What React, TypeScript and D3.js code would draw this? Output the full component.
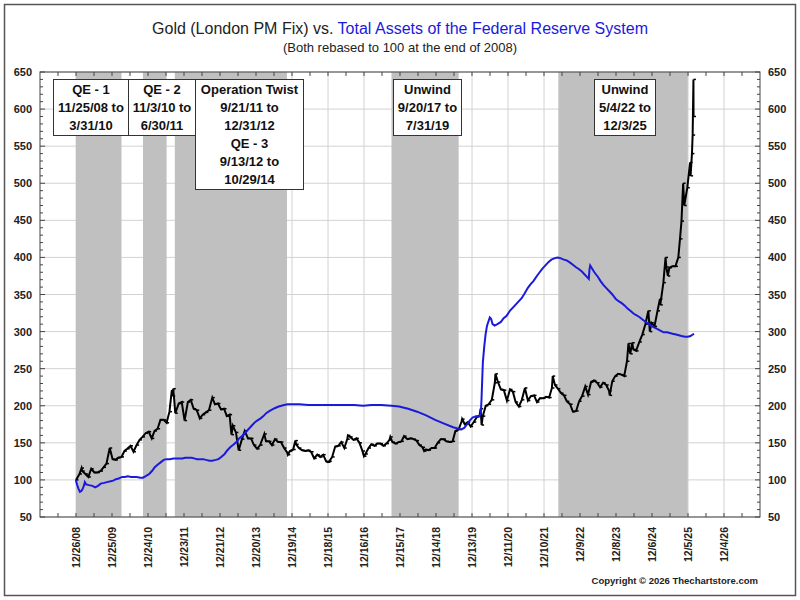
import React, { useEffect, useRef } from 'react';
import * as d3 from 'd3';

// x axis tick labels (every 52 weeks)
const tickLabels = [
  '12/26/08', '12/25/09', '12/24/10', '12/23/11', '12/21/12', '12/20/13', '12/19/14',
  '12/18/15', '12/16/16', '12/15/17', '12/14/18', '12/13/19', '12/11/20', '12/10/21',
  '12/9/22', '12/8/23', '12/6/24', '12/5/25', '12/4/26',
];
const yTicks = [50, 100, 150, 200, 250, 300, 350, 400, 450, 500, 550, 600, 650];

// shaded policy periods
const shadeStarts = ['11/25/08', '11/3/10', '9/21/11', '9/20/17', '5/4/22'];
const shadeEnds = ['3/31/10', '6/30/11', '10/29/14', '7/31/19', '12/3/25'];

const boxLines = [
  ['QE - 1', '11/25/08 to', '3/31/10'],
  ['QE - 2', '11/3/10 to', '6/30/11'],
  ['Operation Twist', '9/21/11 to', '12/31/12', 'QE - 3', '9/13/12 to', '10/29/14'],
  ['Unwind', '9/20/17 to', '7/31/19'],
  ['Unwind', '5/4/22 to', '12/3/25'],
];

// gold, London PM fix, rebased (100 = end of 2008)
const goldDates = [
  '2008-12-26', '2009-01-30', '2009-02-20', '2009-02-27', '2009-03-31', '2009-04-30', '2009-05-29', '2009-06-30',
  '2009-07-31', '2009-08-31', '2009-09-30', '2009-10-30', '2009-12-02', '2009-12-31',
  '2010-01-29', '2010-02-26', '2010-03-31', '2010-04-30', '2010-05-28', '2010-06-30', '2010-07-30', '2010-08-31',
  '2010-09-30', '2010-10-29', '2010-11-30', '2010-12-31',
  '2011-01-31', '2011-02-28', '2011-03-31', '2011-04-29', '2011-05-31', '2011-06-30', '2011-07-29', '2011-08-22',
  '2011-08-31', '2011-09-06', '2011-09-26', '2011-10-31', '2011-11-30', '2011-12-29',
  '2012-01-31', '2012-02-29', '2012-03-30', '2012-04-30', '2012-05-31', '2012-06-29', '2012-07-31', '2012-08-31',
  '2012-10-04', '2012-10-31', '2012-11-30', '2012-12-31',
  '2013-01-31', '2013-02-28', '2013-03-28', '2013-04-16', '2013-04-30', '2013-05-31', '2013-06-28', '2013-07-31',
  '2013-08-28', '2013-09-30', '2013-10-31', '2013-11-29', '2013-12-31',
  '2014-01-31', '2014-03-14', '2014-03-31', '2014-04-30', '2014-05-30', '2014-06-30', '2014-07-31', '2014-08-29',
  '2014-09-30', '2014-10-31', '2014-11-07', '2014-11-28', '2014-12-31',
  '2015-01-22', '2015-01-30', '2015-02-27', '2015-03-31', '2015-04-30', '2015-05-29', '2015-06-30', '2015-07-31',
  '2015-08-31', '2015-09-30', '2015-10-30', '2015-11-30', '2015-12-17', '2015-12-31',
  '2016-01-29', '2016-02-29', '2016-03-31', '2016-04-29', '2016-05-31', '2016-06-30', '2016-07-06', '2016-07-29',
  '2016-08-31', '2016-09-30', '2016-10-31', '2016-11-30', '2016-12-15', '2016-12-30',
  '2017-01-31', '2017-02-28', '2017-03-31', '2017-04-28', '2017-05-31', '2017-06-30', '2017-07-31', '2017-08-31',
  '2017-09-08', '2017-09-29', '2017-10-31', '2017-11-30', '2017-12-29',
  '2018-01-25', '2018-02-28', '2018-03-30', '2018-04-30', '2018-05-31', '2018-06-29', '2018-07-31', '2018-08-16',
  '2018-08-31', '2018-09-28', '2018-10-31', '2018-11-30', '2018-12-31',
  '2019-01-31', '2019-02-28', '2019-03-29', '2019-04-30', '2019-05-31', '2019-06-28', '2019-07-31', '2019-08-30',
  '2019-09-04', '2019-09-30', '2019-10-31', '2019-11-29', '2019-12-31',
  '2020-01-31', '2020-02-28', '2020-03-09', '2020-03-19', '2020-03-31', '2020-04-30', '2020-05-29', '2020-06-30',
  '2020-07-31', '2020-08-06', '2020-08-31', '2020-09-30', '2020-10-30', '2020-11-30', '2020-12-31',
  '2021-01-29', '2021-02-26', '2021-03-31', '2021-04-30', '2021-05-31', '2021-06-30', '2021-07-30', '2021-08-31',
  '2021-09-30', '2021-10-29', '2021-11-30', '2021-12-31',
  '2022-01-31', '2022-02-28', '2022-03-08', '2022-03-31', '2022-04-29', '2022-05-31', '2022-06-30', '2022-07-29',
  '2022-08-31', '2022-09-28', '2022-10-31', '2022-11-30', '2022-12-30',
  '2023-01-31', '2023-02-28', '2023-03-31', '2023-04-28', '2023-05-31', '2023-06-30', '2023-07-31', '2023-08-31',
  '2023-09-29', '2023-10-05', '2023-10-31', '2023-11-30', '2023-12-29',
  '2024-01-31', '2024-02-29', '2024-03-28', '2024-04-12', '2024-04-30', '2024-05-20', '2024-05-31', '2024-06-28',
  '2024-07-31', '2024-08-30', '2024-09-30', '2024-10-30', '2024-11-14', '2024-11-29', '2024-12-31',
  '2025-01-31', '2025-02-24', '2025-02-28', '2025-03-31', '2025-04-22', '2025-04-30', '2025-05-15', '2025-05-30',
  '2025-06-30', '2025-07-31', '2025-08-29', '2025-09-15', '2025-09-30', '2025-10-17', '2025-10-28', '2025-11-28',
  '2025-12-26', '2025-12-31', '2026-01-14', '2026-01-21', '2026-01-29', '2026-01-30',
];
const goldValues = [
  100, 108, 116, 112, 108, 104, 115, 110,
  110, 112, 117, 122, 143, 128,
  127, 130, 131, 139, 142, 146, 138, 147,
  154, 158, 163, 165,
  156, 166, 169, 181, 181, 177, 192, 221,
  213, 223, 190, 203, 205, 180,
  205, 208, 196, 194, 183, 188, 191, 194,
  211, 202, 203, 195,
  196, 186, 188, 161, 173, 164, 140, 155,
  166, 156, 156, 147, 142,
  147, 162, 152, 152, 147, 155, 151, 151,
  143, 137, 134, 139, 141,
  153, 148, 143, 140, 139, 140, 138, 129,
  134, 131, 134, 125, 124, 125,
  131, 145, 146, 151, 143, 155, 160, 158,
  154, 156, 150, 139, 132, 135,
  143, 148, 146, 149, 149, 146, 149, 154,
  158, 151, 149, 151, 152,
  159, 155, 156, 155, 153, 147, 144, 139,
  141, 140, 143, 143, 150,
  155, 155, 152, 151, 152, 166, 168, 179,
  182, 175, 178, 172, 178,
  185, 187, 196, 174, 186, 200, 202, 208,
  231, 243, 232, 222, 221, 207, 222,
  219, 205, 199, 208, 224, 207, 213, 214,
  205, 210, 210, 212,
  211, 224, 240, 228, 223, 217, 214, 206,
  202, 192, 193, 206, 213,
  226, 215, 232, 234, 231, 225, 231, 228,
  220, 214, 233, 240, 243,
  242, 240, 260, 284, 270, 285, 276, 274,
  286, 296, 310, 328, 300, 312, 307,
  328, 344, 336, 366, 400, 387, 375, 386,
  388, 388, 400, 425, 449, 500, 470, 494,
  528, 510, 540, 565, 640, 590,
];

// total assets of the Federal Reserve, rebased (100 = end of 2008)
const fedDates = [
  '2008-12-24', '2009-01-07', '2009-01-21', '2009-02-04', '2009-02-18', '2009-03-04', '2009-03-18', '2009-03-25',
  '2009-04-08', '2009-05-06', '2009-06-10', '2009-07-08', '2009-08-05', '2009-09-02', '2009-10-07', '2009-11-04',
  '2009-12-02', '2010-01-06', '2010-02-03', '2010-03-03', '2010-04-07', '2010-05-05', '2010-06-02', '2010-07-07',
  '2010-08-04', '2010-09-01', '2010-10-06', '2010-11-03', '2010-12-01', '2011-01-05', '2011-02-02', '2011-03-02',
  '2011-04-06', '2011-05-04', '2011-06-01', '2011-06-29', '2011-08-03', '2011-09-07', '2011-10-05', '2011-11-02',
  '2011-12-07', '2012-01-04', '2012-02-01', '2012-03-07', '2012-04-04', '2012-05-02', '2012-06-06', '2012-07-04',
  '2012-08-01', '2012-09-05', '2012-10-03', '2012-11-07', '2012-12-05', '2013-01-02', '2013-02-06', '2013-03-06',
  '2013-04-03', '2013-05-01', '2013-06-05', '2013-07-03', '2013-08-07', '2013-09-04', '2013-10-02', '2013-11-06',
  '2013-12-04', '2014-01-01', '2014-02-05', '2014-03-05', '2014-04-02', '2014-05-07', '2014-06-04', '2014-07-02',
  '2014-08-06', '2014-09-03', '2014-10-01', '2014-11-05', '2014-12-03', '2015-03-04', '2015-06-03', '2015-09-02',
  '2015-12-02', '2016-03-02', '2016-06-01', '2016-09-07', '2016-12-07', '2017-03-01', '2017-06-07', '2017-09-20',
  '2017-12-06', '2018-03-07', '2018-06-06', '2018-09-05', '2018-12-05', '2019-03-06', '2019-06-05', '2019-08-28',
  '2019-09-25', '2019-10-23', '2019-11-20', '2019-12-18', '2020-01-22', '2020-02-26', '2020-03-11', '2020-03-18',
  '2020-03-25', '2020-04-01', '2020-04-15', '2020-04-29', '2020-05-13', '2020-06-10', '2020-06-24', '2020-07-08',
  '2020-07-29', '2020-08-26', '2020-09-30', '2020-10-28', '2020-11-25', '2020-12-30', '2021-01-27', '2021-02-24',
  '2021-03-31', '2021-04-28', '2021-05-26', '2021-06-30', '2021-07-28', '2021-08-25', '2021-09-29', '2021-10-27',
  '2021-11-24', '2021-12-29', '2022-01-26', '2022-02-23', '2022-03-30', '2022-04-27', '2022-05-25', '2022-06-29',
  '2022-07-27', '2022-08-31', '2022-09-28', '2022-10-26', '2022-11-30', '2022-12-28', '2023-01-25', '2023-02-22',
  '2023-03-08', '2023-03-15', '2023-03-22', '2023-04-05', '2023-05-03', '2023-06-07', '2023-07-05', '2023-08-02',
  '2023-09-06', '2023-10-04', '2023-11-01', '2023-12-06', '2024-01-03', '2024-02-07', '2024-03-06', '2024-04-03',
  '2024-05-01', '2024-06-05', '2024-07-03', '2024-08-07', '2024-09-04', '2024-10-02', '2024-11-06', '2024-12-04',
  '2025-01-08', '2025-02-05', '2025-03-05', '2025-04-02', '2025-05-07', '2025-06-04', '2025-07-02', '2025-08-06',
  '2025-09-03', '2025-10-01', '2025-11-05', '2025-12-03', '2025-12-31', '2026-01-21', '2026-02-04',
];
const fedValues = [
  100, 93, 88, 84, 85, 88, 93, 97,
  94, 93, 92, 90, 92, 95, 96, 97,
  98, 99, 101, 102, 104, 104, 105, 104,
  104, 104, 103, 103, 105, 108, 112, 117,
  121, 124, 127, 128, 128, 129, 129, 129,
  129, 130, 130, 130, 129, 128, 128, 128,
  127, 126, 126, 127, 128, 131, 135, 140,
  144, 147, 151, 156, 160, 164, 168, 173,
  177, 180, 183, 186, 190, 193, 195, 197,
  199, 200, 201, 202, 202, 202, 201, 201,
  201, 201, 201, 201, 200, 201, 201, 200,
  199, 196, 192, 187, 181, 176, 171, 168,
  170, 175, 180, 184, 186, 186, 190, 208,
  234, 259, 280, 297, 308, 319, 317, 310,
  308, 310, 313, 318, 321, 328, 332, 336,
  341, 345, 351, 359, 364, 368, 375, 380,
  385, 390, 394, 397, 399, 400, 399, 397,
  396, 393, 390, 387, 384, 381, 377, 373,
  371, 384, 389, 386, 380, 374, 368, 363,
  358, 354, 350, 344, 341, 338, 335, 331,
  328, 324, 322, 319, 316, 313, 310, 307,
  305, 303, 301, 299, 299, 298, 297, 296,
  295, 294, 293, 293, 294, 296, 297,
];

const FONT = 'Arial, "Liberation Sans", sans-serif';

const App = () => {
  const ref = useRef(null);

  useEffect(() => {
    const svg = d3.select(ref.current);
    svg.selectAll('*').remove();

    const W = 800;
    const H = 600;
    const m = { left: 40, right: 40, top: 72, bottom: 83 };
    const x0 = m.left;
    const x1 = W - m.right;
    const y0 = m.top;
    const y1 = H - m.bottom;

    const parseTick = d3.timeParse('%m/%d/%y');
    const parseDay = d3.timeParse('%Y-%m-%d');
    const ticks = tickLabels.map(t => parseTick(t) as Date);
    const domStart = d3.timeDay.offset(ticks[0], -364);
    const domEnd = d3.timeDay.offset(ticks[ticks.length - 1], 364);

    const x = d3.scaleTime().domain([domStart, domEnd]).range([x0, x1]);
    const y = d3.scaleLinear().domain([50, 650]).range([y1, y0]);

    const gold = goldDates.map((d, i) => ({ date: parseDay(d) as Date, value: goldValues[i] }));
    const fed = fedDates.map((d, i) => ({ date: parseDay(d) as Date, value: fedValues[i] }));

    svg.append('rect').attr('width', W).attr('height', H).attr('fill', '#fff');
    svg.append('rect')
      .attr('x', 4.5).attr('y', 4.5).attr('width', W - 9).attr('height', H - 9)
      .attr('fill', 'none').attr('stroke', '#555').attr('stroke-width', 1.5);

    // grid
    const grid = svg.append('g').attr('stroke', '#d2d2d2').attr('stroke-width', 1);
    yTicks.forEach(v => {
      grid.append('line').attr('x1', x0).attr('x2', x1).attr('y1', y(v)).attr('y2', y(v));
    });
    ticks.forEach(t => {
      grid.append('line').attr('x1', x(t)).attr('x2', x(t)).attr('y1', y0).attr('y2', y1);
    });

    // shaded periods
    const firstDate = gold[0].date;
    shadeStarts.forEach((s, i) => {
      const a = d3.max([parseTick(s) as Date, firstDate]) as Date;
      const b = parseTick(shadeEnds[i]) as Date;
      svg.append('rect')
        .attr('x', x(a)).attr('y', y0)
        .attr('width', x(b) - x(a)).attr('height', y1 - y0)
        .attr('fill', '#c0c0c0');
    });

    // frame + ticks
    svg.append('rect')
      .attr('x', x0).attr('y', y0).attr('width', x1 - x0).attr('height', y1 - y0)
      .attr('fill', 'none').attr('stroke', '#444').attr('stroke-width', 1);

    const tk = svg.append('g').attr('stroke', '#444').attr('stroke-width', 1);
    d3.range(50, 651, 10).forEach(v => {
      const len = v % 50 === 0 ? 5 : 3;
      tk.append('line').attr('x1', x0).attr('x2', x0 + len).attr('y1', y(v)).attr('y2', y(v));
      tk.append('line').attr('x1', x1 - len).attr('x2', x1).attr('y1', y(v)).attr('y2', y(v));
    });
    d3.range(1, 40).forEach(i => {
      const xx = x(d3.timeDay.offset(domStart, i * 182));
      tk.append('line').attr('x1', xx).attr('x2', xx).attr('y1', y1).attr('y2', y1 - 4);
      tk.append('line').attr('x1', xx).attr('x2', xx).attr('y1', y0).attr('y2', y0 + 4);
    });

    // series
    const line = d3.line<{ date: Date; value: number }>()
      .x(d => x(d.date))
      .y(d => y(d.value));

    svg.append('path')
      .datum(gold)
      .attr('d', line)
      .attr('fill', 'none')
      .attr('stroke', '#000')
      .attr('stroke-width', 2)
      .attr('stroke-linejoin', 'miter');

    // small close ticks, like the weekly bars of the original
    svg.append('g')
      .attr('stroke', '#000')
      .attr('stroke-width', 1.5)
      .selectAll('line')
      .data(gold)
      .join('line')
      .attr('x1', d => x(d.date))
      .attr('x2', d => x(d.date) + 2.5)
      .attr('y1', d => y(d.value))
      .attr('y2', d => y(d.value));

    svg.append('path')
      .datum(fed)
      .attr('d', line)
      .attr('fill', 'none')
      .attr('stroke', '#1a1adc')
      .attr('stroke-width', 2);

    // annotation boxes
    const boxLeft = [53, 128, 195, 393, 594];
    const boxRight = [128, 195, 303, 461, 655];
    const lineH = 18;
    boxLines.forEach((lines, i) => {
      const g = svg.append('g');
      g.append('rect')
        .attr('x', boxLeft[i] + 0.5).attr('y', 79.5)
        .attr('width', boxRight[i] - boxLeft[i]).attr('height', lines.length * lineH + 2)
        .attr('fill', '#fff').attr('stroke', '#333').attr('stroke-width', 1);
      lines.forEach((t, j) => {
        g.append('text')
          .attr('x', (boxLeft[i] + boxRight[i]) / 2 + 0.5)
          .attr('y', 94 + j * lineH)
          .attr('text-anchor', 'middle')
          .attr('font-family', FONT)
          .attr('font-weight', 'bold')
          .attr('font-size', 13)
          .attr('fill', '#111')
          .text(t);
      });
    });

    // y axis labels
    yTicks.forEach(v => {
      svg.append('text')
        .attr('x', 32).attr('y', y(v) + 4)
        .attr('text-anchor', 'end')
        .attr('font-family', FONT).attr('font-weight', 'bold').attr('font-size', 11)
        .attr('fill', '#222')
        .text(v);
      svg.append('text')
        .attr('x', 768).attr('y', y(v) + 4)
        .attr('text-anchor', 'start')
        .attr('font-family', FONT).attr('font-weight', 'bold').attr('font-size', 11)
        .attr('fill', '#222')
        .text(v);
    });

    // x axis labels
    ticks.forEach((t, i) => {
      svg.append('text')
        .attr('transform', `translate(${x(t) + 4},${y1 + 10}) rotate(-90)`)
        .attr('text-anchor', 'end')
        .attr('font-family', FONT).attr('font-weight', 'bold').attr('font-size', 10.5)
        .attr('fill', '#222')
        .text(tickLabels[i]);
    });

    // titles
    const title = svg.append('text')
      .attr('x', W / 2).attr('y', 34)
      .attr('text-anchor', 'middle')
      .attr('font-family', FONT).attr('font-size', 16);
    title.append('tspan').attr('fill', '#222').text('Gold (London PM Fix) vs. ');
    title.append('tspan').attr('fill', '#1a1adc').text('Total Assets of the Federal Reserve System');

    svg.append('text')
      .attr('x', W / 2).attr('y', 52)
      .attr('text-anchor', 'middle')
      .attr('font-family', FONT).attr('font-size', 13).attr('fill', '#222')
      .text('(Both rebased to 100 at the end of 2008)');

    svg.append('text')
      .attr('x', 758).attr('y', 584)
      .attr('text-anchor', 'end')
      .attr('font-family', FONT).attr('font-weight', 'bold').attr('font-size', 9.5)
      .attr('fill', '#222')
      .text('Copyright \u00a9 2026 Thechartstore.com');
  }, []);

  return (
    <svg
      ref={ref}
      width={800}
      height={600}
      style={{ position: 'absolute', left: 0, top: 0, display: 'block' }}
    />
  );
};

export default App;
